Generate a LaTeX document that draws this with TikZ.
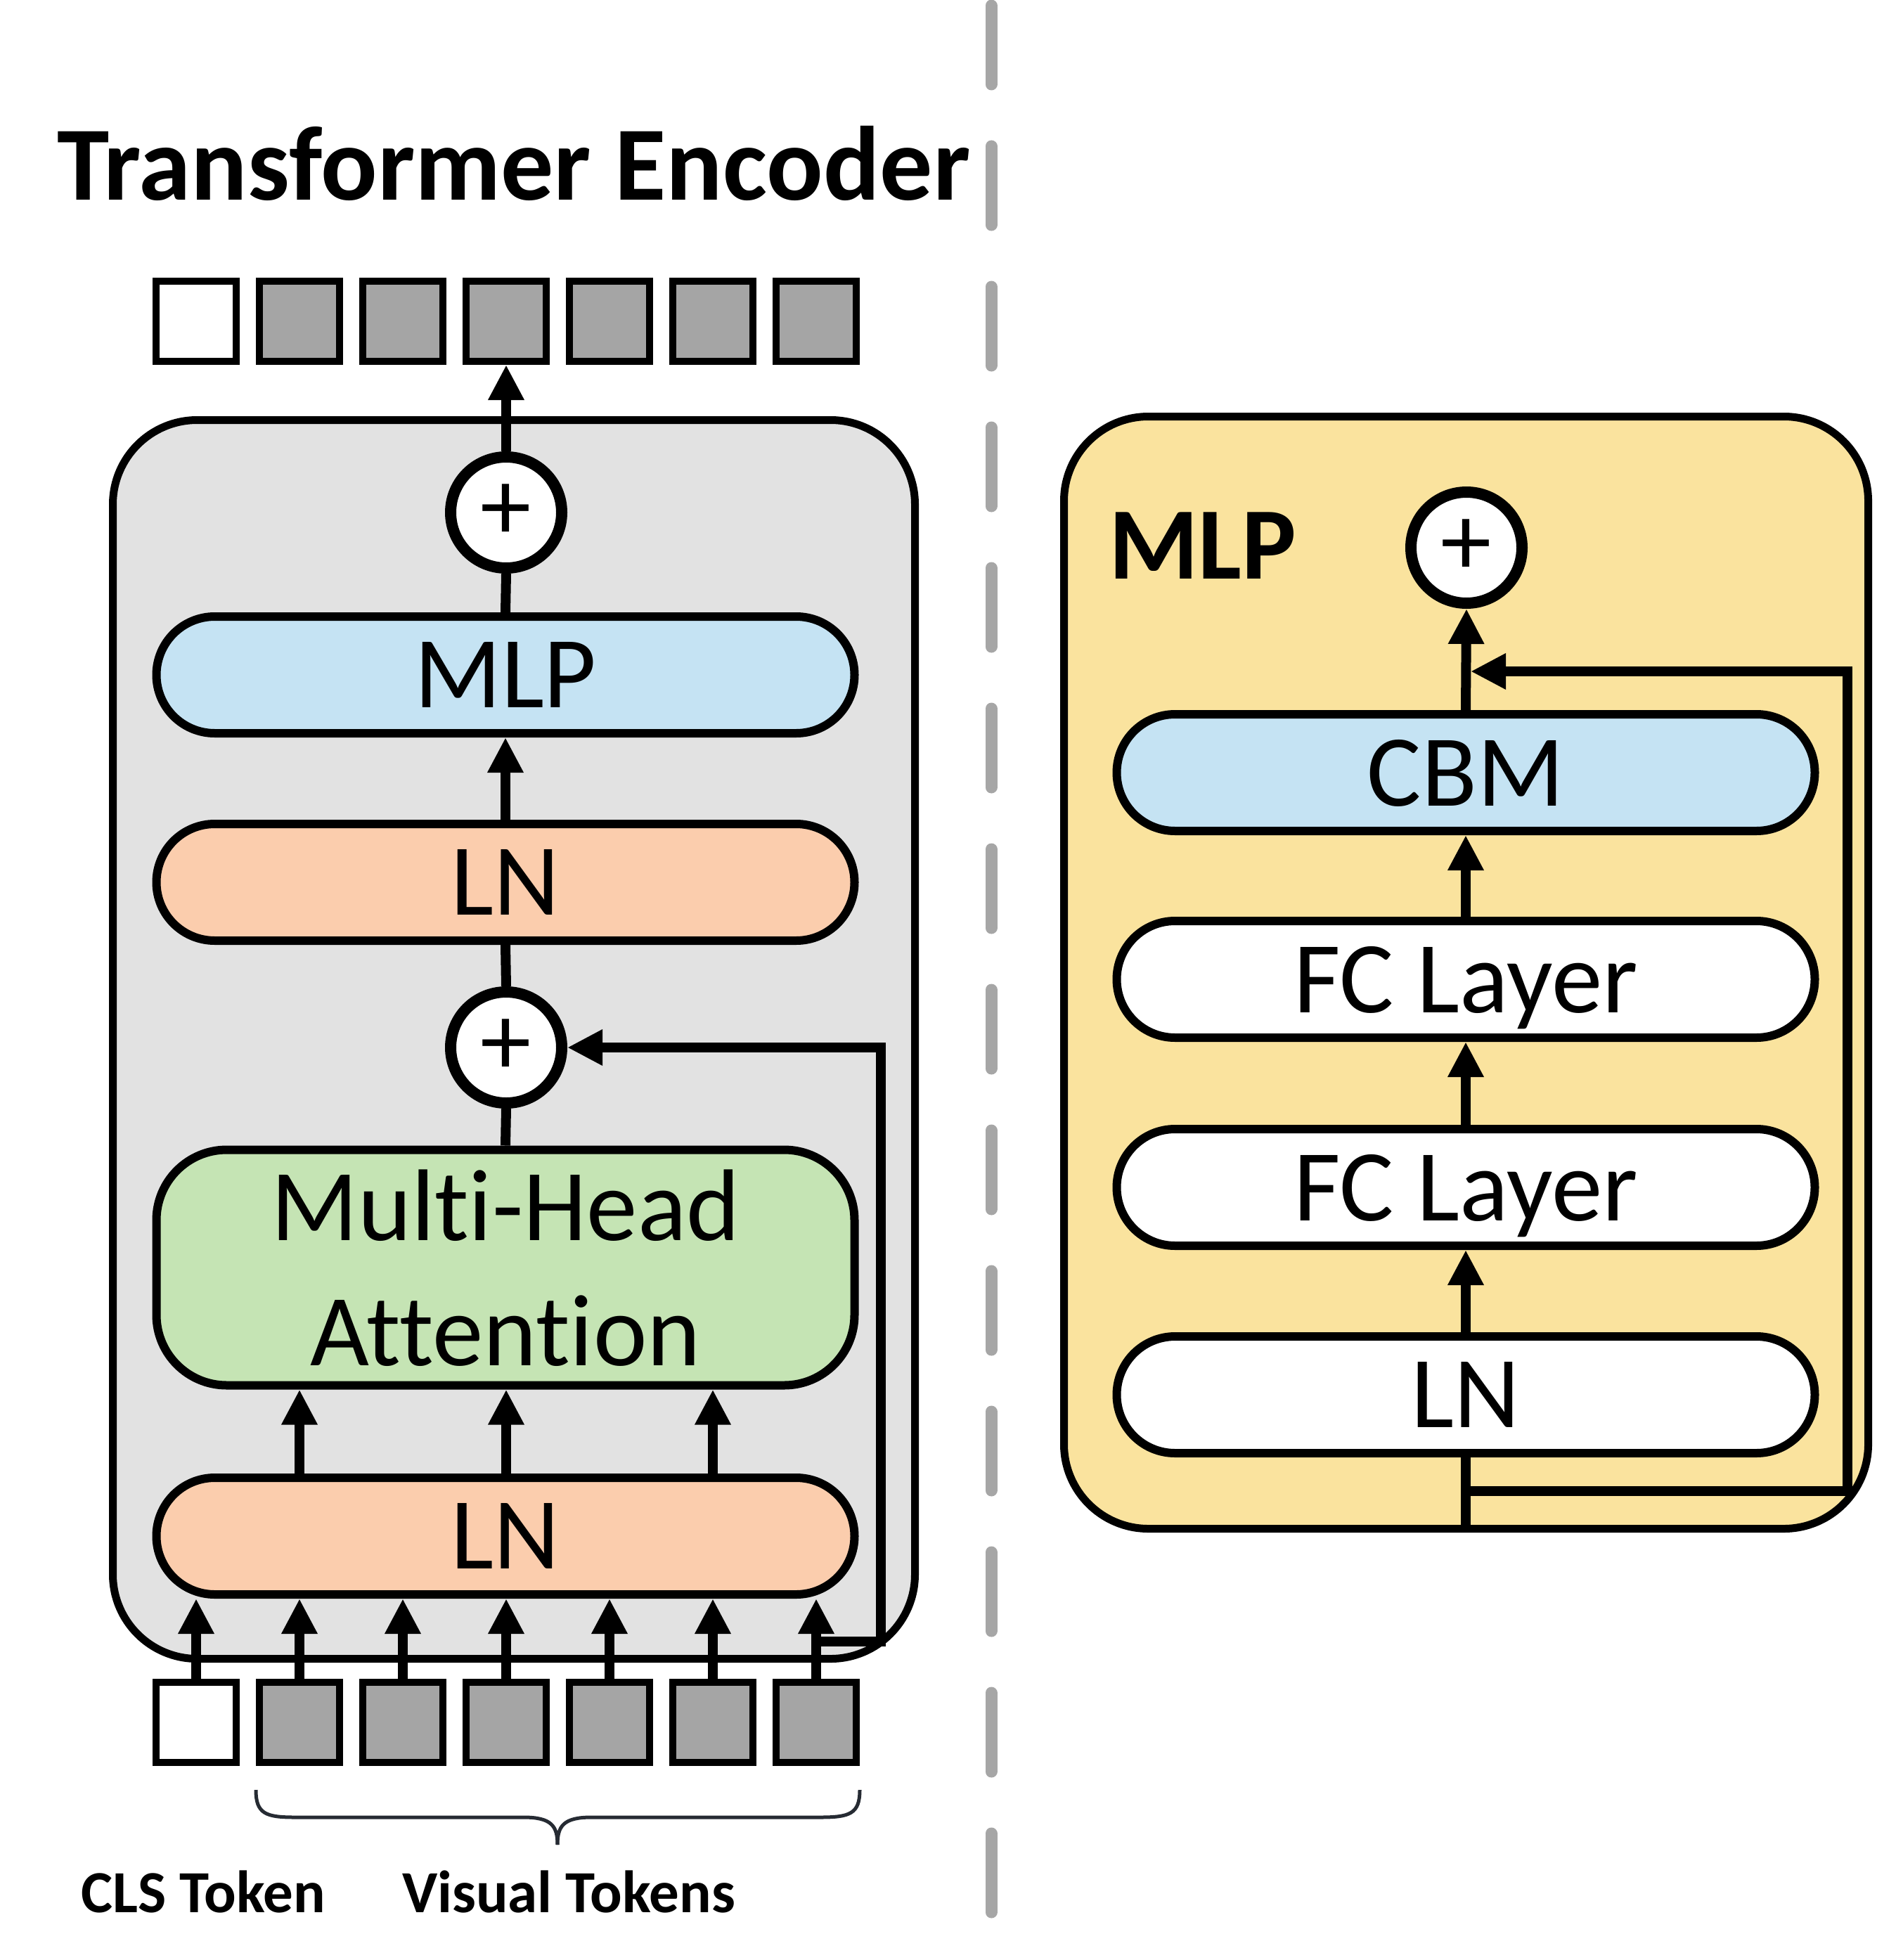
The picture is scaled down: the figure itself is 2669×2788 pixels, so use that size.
\documentclass[tikz,border=0pt]{standalone}
\usepackage{fontspec}
\setmainfont{Carlito}[RawFeature={-liga;-clig}]
\usetikzlibrary{arrows.meta}
\definecolor{encbg}{HTML}{E2E2E2}
\definecolor{mlpblue}{HTML}{C5E3F3}
\definecolor{lnpeach}{HTML}{FBCDAD}
\definecolor{mhagreen}{HTML}{C5E4B4}
\definecolor{mlpyellow}{HTML}{FAE39E}
\definecolor{tokgray}{HTML}{A5A5A5}
\definecolor{dashgray}{HTML}{A6A6A6}
\definecolor{bracecol}{HTML}{262B33}
\begin{document}
\begin{tikzpicture}[x=1pt,y=-1pt,
  lbl/.style={font=\fontsize{145}{178}\selectfont},
  pill/.style={lbl,draw=black,line width=12pt,rounded corners=83pt,minimum width=993pt,minimum height=166pt,inner sep=0pt,text depth=0pt},
  tok/.style={draw=black,line width=10pt,fill=tokgray,minimum width=114pt,minimum height=114pt,inner sep=0pt},
  plusnode/.style={circle,draw=black,line width=16pt,fill=white,minimum size=158pt,inner sep=0pt,font=\fontsize{145}{178}\selectfont},
  conn/.style={line width=14pt},
  arr/.style={conn,-{Triangle[length=50pt,width=48pt]}},
  bigbox/.style={draw=black,line width=11pt,rounded corners=120pt,inner sep=0pt},
]
\path[use as bounding box] (0,0) rectangle (2669,2788);

% dashed separator
\draw[dashgray,line width=17pt,line cap=round,dash pattern=on 112pt off 88pt] (1410,8) -- (1410,2740);

% title
\node[font=\bfseries\fontsize{150}{180}\selectfont,anchor=base,inner sep=0pt] (title) at (731,284) {Transformer Encoder};

% encoder box
\node[bigbox,fill=encbg,minimum width=1141pt,minimum height=1762pt] (enc) at (731,1478.5) {};

% tokens
\node[tok,fill=white] (t1) at (279,457) {};
\node[tok,fill=white] (b1) at (279,2450) {};
\foreach \i in {2,...,7}{
  \node[tok] (t\i) at ({279+147*(\i-1)},457) {};
  \node[tok] (b\i) at ({279+147*(\i-1)},2450) {};
}

% left column
\node[plusnode] (p1) at (720,729) {+};
\node[pill,fill=mlpblue] (mlp) at (719,960) {MLP};
\node[pill,fill=lnpeach] (lnA) at (719,1255) {LN};
\node[plusnode] (p2) at (720,1490) {+};
\node[pill,fill=mhagreen,rounded corners=100pt,minimum height=335pt,align=center] (mha) at (719,1803) {Multi-Head\\Attention};
\node[pill,fill=lnpeach] (lnB) at (719,2185) {LN};

\draw[arr] (p1.north) -- (t4.south);
\draw[conn] (mlp.north) -- (p1.south);
\draw[arr] (lnA.north) -- (mlp.south);
\draw[conn] (p2.north) -- (lnA.south);
\draw[conn] (mha.north) -- (p2.south);
\foreach \i in {2,4,6}{
  \draw[arr] (lnB.north -| t\i) -- (mha.south -| t\i);
}
\foreach \i in {1,...,7}{
  \draw[arr] (b\i.north) -- (b\i.north |- lnB.south);
}
\coordinate (rA) at (1253,2335);
\draw[arr,line join=miter] (b7.north |- rA) -- (rA) -- (rA |- p2) -- (p2.east);

% brace and token labels
\draw[bracecol,line width=5pt] (364,2546) .. controls (364,2580) and (378,2585) .. (420,2585) -- (745,2585) .. controls (785,2585) and (793,2598) .. (793,2624);
\draw[bracecol,line width=5pt] (1223,2546) .. controls (1223,2580) and (1209,2585) .. (1166,2585) -- (841,2585) .. controls (801,2585) and (793,2598) .. (793,2624);
\node[font=\bfseries\fontsize{85}{100}\selectfont,anchor=base,inner sep=0pt] (cls) at (289,2720) {CLS Token};
\node[font=\bfseries\fontsize{85}{100}\selectfont,anchor=base,inner sep=0pt] (vis) at (809,2720) {Visual Tokens};

% right panel
\node[bigbox,fill=mlpyellow,minimum width=1144pt,minimum height=1582pt] (mlpbox) at (2085.5,1383.5) {};
\node[font=\bfseries\fontsize{146}{178}\selectfont,anchor=base west,inner sep=0pt] (mlptitle) at (1577,823) {MLP};
\node[plusnode] (p3) at (2086,779) {+};
\node[pill,fill=mlpblue] (cbm) at (2085,1099) {CBM};
\node[pill,fill=white] (fc1) at (2085,1393) {FC Layer};
\node[pill,fill=white] (fc2) at (2085,1689) {FC Layer};
\node[pill,fill=white] (ln3) at (2085,1984) {LN};
\coordinate (inM) at (2085,2180);
\coordinate (rB) at (2628,2121);
\coordinate (rC) at (2628,955);
\draw[conn] (inM) -- (ln3.south);
\draw[arr] (ln3.north) -- (fc2.south);
\draw[arr] (fc2.north) -- (fc1.south);
\draw[arr] (fc1.north) -- (cbm.south);
\draw[arr] (cbm.north) -- (p3.south);
\draw[arr,line join=miter,shorten >=7pt] (inM |- rB) -- (rB) -- (rC) -- (cbm.north |- rC);
\end{tikzpicture}
\end{document}
